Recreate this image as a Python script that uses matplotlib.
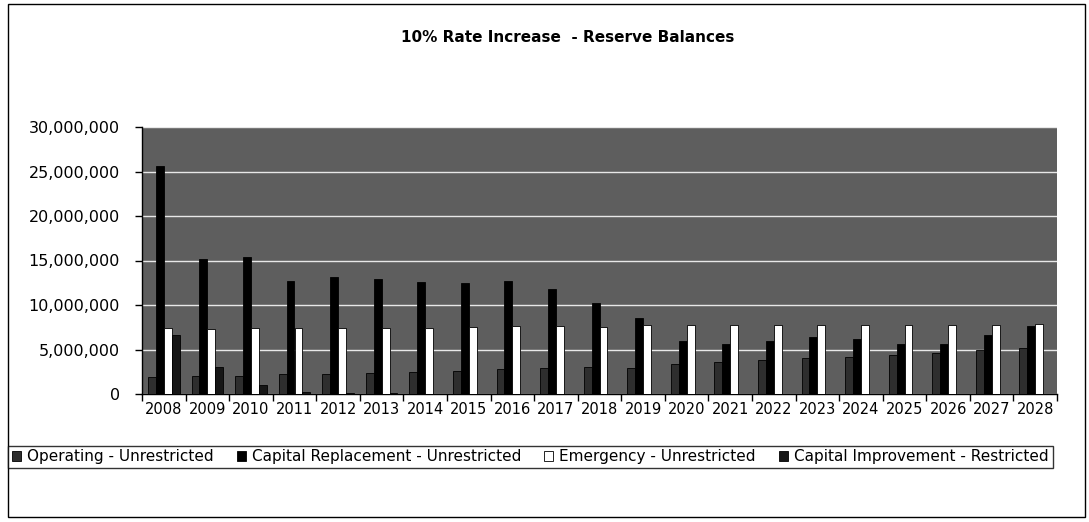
import matplotlib
matplotlib.use("Agg")
import matplotlib.pyplot as plt
import numpy as np
from matplotlib.patches import Rectangle, Patch
from matplotlib.ticker import FuncFormatter, MultipleLocator, FixedLocator

plt.rcParams['font.family'] = ['DejaVu Sans']

years = [str(y) for y in range(2008, 2029)]

# Reserve balances by fund (dollars, in millions)
operating = [1.9, 2.0, 2.0, 2.2, 2.3, 2.4, 2.5, 2.6, 2.8, 2.9, 3.0,
             2.9, 3.4, 3.6, 3.8, 4.0, 4.2, 4.4, 4.6, 4.9, 5.2]
capital_replacement = [25.6, 15.2, 15.4, 12.7, 13.2, 12.9, 12.6, 12.5, 12.7, 11.8, 10.2,
                       8.5, 6.0, 5.6, 5.9, 6.4, 6.2, 5.6, 5.6, 6.6, 7.6]
emergency = [7.4, 7.3, 7.4, 7.4, 7.4, 7.4, 7.4, 7.5, 7.6, 7.6, 7.5,
             7.7, 7.7, 7.7, 7.7, 7.7, 7.7, 7.7, 7.7, 7.8, 7.9]
capital_improvement = [6.6, 3.0, 1.0, 0.2, 0.1, 0.1, 0.0, 0.0, 0.0, 0.0, 0.0,
                       0.0, 0.0, 0.0, 0.0, 0.0, 0.0, 0.0, 0.0, 0.0, 0.0]

series_names = ["Operating - Unrestricted", "Capital Replacement - Unrestricted",
                "Emergency - Unrestricted", "Capital Improvement - Restricted"]
series_values = [operating, capital_replacement, emergency, capital_improvement]
series_colors = ["#2e2e2e", "#000000", "#ffffff", "#161616"]

W, H = 1089, 522
fig = plt.figure(figsize=(W / 100, H / 100), dpi=100)
fig.patch.set_facecolor("white")

# outer chart border
fig.add_artist(Rectangle((8 / W, 1 - 517 / H), (1085 - 8) / W, (517 - 4) / H,
                         transform=fig.transFigure, fill=False, edgecolor="black", lw=1.0))

ax = fig.add_axes([142 / W, 1 - 394 / H, (1057 - 142) / W, (394 - 127) / H])
ax.set_facecolor("#5e5e5e")

n = len(years)
x = np.arange(n)
bw = 1 / 5.5
offsets = [-1.5 * bw, -0.5 * bw, 0.5 * bw, 1.5 * bw]
for vals, off, col in zip(series_values, offsets, series_colors):
    ax.bar(x + off, np.array(vals) * 1e6, width=bw, color=col,
           edgecolor="black", linewidth=0.6, zorder=3)

ax.set_xlim(-0.5, n - 0.5)
ax.set_ylim(0, 30e6)
ax.yaxis.set_major_locator(MultipleLocator(5e6))
ax.yaxis.set_major_formatter(FuncFormatter(lambda v, p: f"{int(v):,}"))
ax.grid(axis="y", color="#e8e8e8", linewidth=1.0, zorder=1)
ax.set_axisbelow(True)

ax.set_xticks(x)
ax.set_xticklabels(years)
ax.xaxis.set_minor_locator(FixedLocator(np.arange(-0.5, n, 1.0)))
ax.tick_params(axis="x", which="major", length=0, pad=6, labelsize=10.5)
ax.tick_params(axis="x", which="minor", length=5, direction="out", width=1)
ax.tick_params(axis="y", length=5, direction="out", width=1, labelsize=11.5, pad=11)

for s in ["top", "right"]:
    ax.spines[s].set_visible(False)
ax.spines["left"].set_linewidth(1)
ax.spines["bottom"].set_linewidth(1)

fig.text(568 / W, 1 - 37 / H, "10% Rate Increase  - Reserve Balances",
         ha="center", va="center", fontsize=11, fontweight="bold")

handles = [Patch(facecolor=c, edgecolor="black", linewidth=0.6) for c in series_colors]
leg = fig.legend(handles, series_names, loc="center left",
                 bbox_to_anchor=(8 / W, 1 - 457 / H), ncol=4, fontsize=11,
                 frameon=True, fancybox=False, handlelength=0.6, handleheight=0.6,
                 handletextpad=0.4, columnspacing=1.5, borderpad=0.25,
                 borderaxespad=0)
leg.get_frame().set_edgecolor("black")
leg.get_frame().set_linewidth(1.0)

fig.savefig("out.png", dpi=100, facecolor="white")
